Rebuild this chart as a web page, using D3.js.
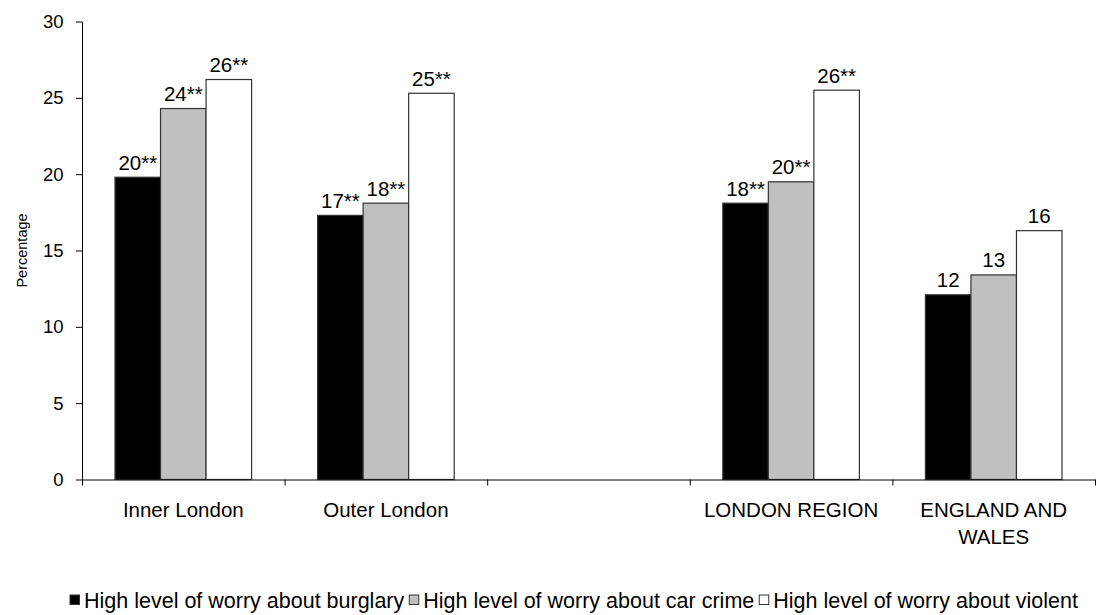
<!DOCTYPE html>
<html>
<head>
<meta charset="utf-8">
<script src="https://cdn.jsdelivr.net/npm/d3@7/dist/d3.min.js"></script>
<style>
  html, body { margin: 0; padding: 0; background: #fff; }
  svg { display: block; font-family: "Liberation Sans", Arial, sans-serif; }
</style>
</head>
<body>
<svg id="chart" width="1096" height="615"></svg>
<script>
// ---- data ----
const categories = ["Inner London", "Outer London", "", "LONDON REGION", "ENGLAND AND WALES"];
const categoryLines = [["Inner London"], ["Outer London"], [], ["LONDON REGION"], ["ENGLAND AND", "WALES"]];
const seriesNames = [
  "High level of worry about burglary",
  "High level of worry about car crime",
  "High level of worry about violent"
];
const burglary  = [19.8, 17.3, null, 18.1, 12.1];
const carCrime  = [24.3, 18.1, null, 19.5, 13.4];
const violent   = [26.2, 25.3, null, 25.5, 16.3];
const burglaryLabels = ["20**", "17**", "", "18**", "12"];
const carCrimeLabels = ["24**", "18**", "", "20**", "13"];
const violentLabels  = ["26**", "25**", "", "26**", "16"];
const yTicks = [0, 5, 10, 15, 20, 25, 30];

const seriesValues = [burglary, carCrime, violent];
const seriesLabels = [burglaryLabels, carCrimeLabels, violentLabels];
const seriesColors = ["#000000", "#c0c0c0", "#ffffff"];

// ---- layout ----
const svg = d3.select("#chart");
const plot = { left: 82, right: 1095, top: 21.5, bottom: 479.5 };

const x = d3.scaleBand().domain(categories.map((c, i) => i)).range([plot.left, plot.right]).padding(0);
const xs = d3.scaleBand().domain([0, 1, 2]).range([0, x.bandwidth()]).paddingInner(0).paddingOuter(0.725);
const y = d3.scaleLinear().domain([0, 30]).range([plot.bottom, plot.top]);

// bars
seriesValues.forEach((vals, s) => {
  const g = svg.append("g");
  vals.forEach((v, i) => {
    if (v == null) return;
    g.append("rect")
      .attr("x", x(i) + xs(s))
      .attr("y", y(v))
      .attr("width", xs.bandwidth())
      .attr("height", y(0) - y(v))
      .attr("fill", seriesColors[s])
      .attr("stroke", "#333")
      .attr("stroke-width", 1.2);
    g.append("text")
      .attr("x", x(i) + xs(s) + xs.bandwidth() / 2)
      .attr("y", y(v) - 7.5)
      .attr("text-anchor", "middle")
      .attr("font-size", 20.5)
      .attr("fill", "#000")
      .text(seriesLabels[s][i]);
  });
});

// y axis
const yAxis = d3.axisLeft(y).tickValues(yTicks).tickSize(6).tickPadding(12.5).tickSizeOuter(0);
const yg = svg.append("g").attr("transform", `translate(${plot.left},0)`).call(yAxis);
yg.select(".domain").attr("stroke", "#000");
yg.selectAll(".tick line").attr("stroke", "#000");
yg.selectAll(".tick text").attr("font-size", 18.5).attr("fill", "#000").attr("font-family", "Liberation Sans, Arial, sans-serif");

// x axis: ticks at category boundaries
const xAxisScale = d3.scaleLinear().domain([0, categories.length]).range([plot.left, plot.right]);
const xAxis = d3.axisBottom(xAxisScale).tickValues(d3.range(categories.length + 1)).tickSize(6).tickFormat("").tickSizeOuter(0);
const xg = svg.append("g").attr("transform", `translate(0,${plot.bottom})`).call(xAxis);
xg.select(".domain").attr("stroke", "#000");
xg.selectAll(".tick line").attr("stroke", "#000");

// category labels
categoryLines.forEach((lines, i) => {
  lines.forEach((ln, k) => {
    svg.append("text")
      .attr("x", x(i) + x.bandwidth() / 2)
      .attr("y", 517 + k * 27)
      .attr("text-anchor", "middle")
      .attr("font-size", 20.5)
      .attr("fill", "#000")
      .text(ln);
  });
});

// y title
svg.append("text")
  .attr("transform", `translate(27,${(plot.top + plot.bottom) / 2}) rotate(-90)`)
  .attr("text-anchor", "middle")
  .attr("font-size", 14.5)
  .attr("fill", "#000")
  .text("Percentage");

// legend
const lg = svg.append("g").attr("transform", "translate(70,608)");
let lx = 0;
seriesNames.forEach((name, s) => {
  lg.append("rect")
    .attr("x", lx).attr("y", -13).attr("width", 9.5).attr("height", 9.5)
    .attr("fill", seriesColors[s]).attr("stroke", "#333").attr("stroke-width", 1);
  const t = lg.append("text")
    .attr("x", lx + 14).attr("y", 0)
    .attr("font-size", 21.5).attr("fill", "#000")
    .text(name);
  lx += 14 + t.node().getComputedTextLength() + 5;
});
</script>
</body>
</html>
